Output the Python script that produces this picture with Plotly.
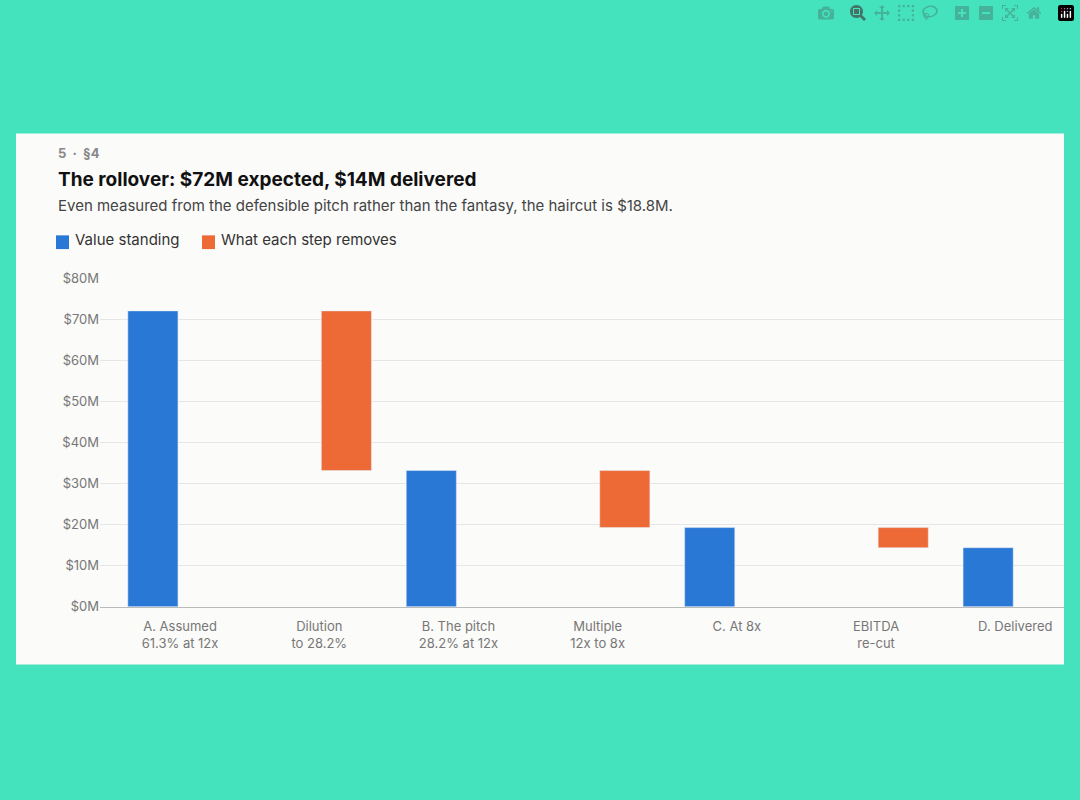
import plotly.graph_objects as go

categories = ["A. Assumed<br>61.3% at 12x", "Dilution<br>to 28.2%", "B. The pitch<br>28.2% at 12x",
              "Multiple<br>12x to 8x", "C. At 8x", "EBITDA<br>re-cut", "D. Delivered"]
standing = [72.1, None, 33.2, None, 19.3, None, 14.4]
removes = [None, 38.9, None, 13.9, None, 4.9, None]
removes_base = [None, 33.2, None, 19.3, None, 14.4, None]

fig = go.Figure()
fig.add_bar(x=categories, y=standing, name="Value standing", marker_color="#2a78d6",
            width=0.36, offset=-0.375)
fig.add_bar(x=categories, y=removes, base=removes_base, name="What each step removes",
            marker_color="#ed6a37", width=0.36, offset=0.015)

fig.update_layout(
    width=1080, height=800, barmode="overlay",
    paper_bgcolor="#45e3bd", plot_bgcolor="#fbfbf9",
    margin=dict(l=0, r=0, t=0, b=0),
    font=dict(family="Inter, Roboto, sans-serif"),
    showlegend=False,
    xaxis=dict(domain=[100/1080, 1064/1080], range=[-0.575, 6.35], showgrid=False, showline=True,
               linecolor="#bbbbbb", tickfont=dict(size=13, color="#777"), ticks="", ticklabelstandoff=8),
    yaxis=dict(domain=[(800-611)/800, (800-276)/800], range=[0, 80], dtick=10,
               tickprefix="$", ticksuffix="M", gridcolor="#e6e6e6", zeroline=False,
               tickfont=dict(size=13, color="#777"), ticks=""),
)
fig.add_shape(type="rect", xref="paper", yref="paper", x0=16/1080, x1=1064/1080,
              y0=(800-670)/800, y1=(800-128)/800, fillcolor="#fbfbf9", line_width=0, layer="below")
anns = [
    (56, 148, "5  ·  §4", 13, "#888", True),
    (56, 175, "The rollover: $72M expected, $14M delivered", 19, "#111", True),
    (56, 202, "Even measured from the defensible pitch rather than the fantasy, the haircut is $18.8M.", 15, "#444", False),
    (73, 236, "Value standing", 15, "#333", False),
    (219, 236, "What each step removes", 15, "#333", False),
]
for x, y, t, s, c, b in anns:
    fig.add_annotation(xref="paper", yref="paper", x=x/1080, y=1-y/800, text=f"<b>{t}</b>" if b else t,
                       showarrow=False, xanchor="left", yanchor="middle", font=dict(size=s, color=c))
for x0, col in [(56, "#2a78d6"), (202, "#ed6a37")]:
    fig.add_shape(type="rect", xref="paper", yref="paper", x0=x0/1080, x1=(x0+13)/1080,
                  y0=1-246/800, y1=1-232/800, fillcolor=col, line_width=0)
fig.write_html("out.html")
with open("out.html", encoding="utf-8") as f:
    html = f.read()
html = html.replace("<head>", "<head><style>html,body{margin:0;padding:0;overflow:hidden}</style>", 1)
with open("out.html", "w", encoding="utf-8") as f:
    f.write(html)
